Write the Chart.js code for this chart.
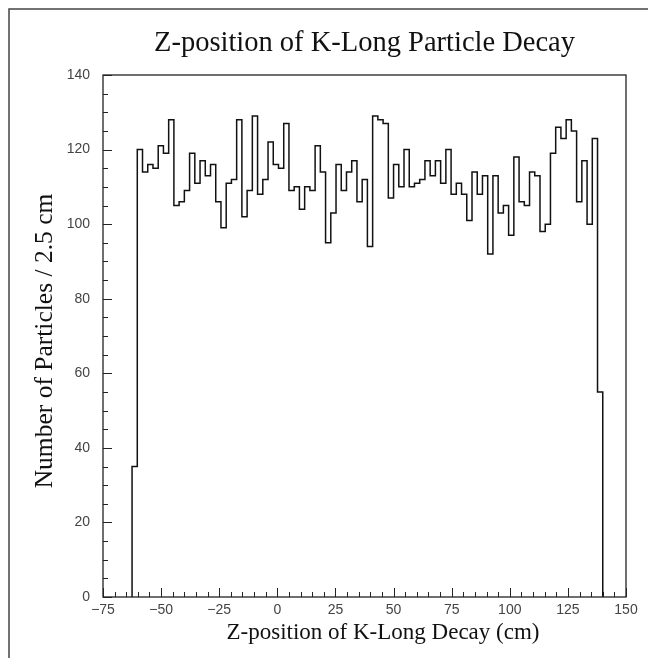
<!DOCTYPE html>
<html>
<head>
<meta charset="utf-8">
<script src="https://cdn.jsdelivr.net/npm/chart.js@4"></script>
<style>
  html, body { margin: 0; padding: 0; background: #fff; }
  #wrap { width: 648px; height: 658px; }
</style>
</head>
<body>
<div id="wrap"><canvas id="chart" width="648" height="658"></canvas></div>
<script>
// histogram binning
const binLow = -62.5;
const binWidth = 2.25;
// counts per bin, left to right
const counts = [
  35,
  120, 114, 116, 115, 121, 119, 128, 105, 106, 109,
  119, 111, 117, 113, 116, 106, 99, 111, 112, 128,
  102, 109, 129, 108, 112, 122, 116, 115, 127, 109,
  110, 104, 110, 109, 121, 114, 95, 103, 116, 109,
  114, 117, 106, 112, 94, 129, 128, 127, 107, 116,
  110, 120, 110, 111, 112, 117, 113, 117, 111, 120,
  108, 111, 108, 101, 114, 108, 113, 92, 113, 103,
  105, 97, 118, 106, 105, 114, 113, 98, 100, 119,
  126, 123, 128, 125, 106, 117, 100, 123,
  55
];
const xMin = -75, xMax = 150, xMajor = 25, xMinor = 5;
const yMin = 0, yMax = 140, yMajor = 20, yMinor = 5;

const chartTitle = 'Z-position of K-Long Particle Decay';
const xTitle = 'Z-position of K-Long Decay (cm)';
const yTitle = 'Number of Particles / 2.5 cm';

// outline of the histogram: one point per bin left edge, plus closing edge
const points = [{x: binLow, y: 0}];
counts.forEach(function(c, i) {
  points.push({x: binLow + i * binWidth, y: c});
});
points.push({x: binLow + counts.length * binWidth, y: 0});

function fmt(v) {
  return v < 0 ? '\u2212' + Math.abs(v) : String(v);
}

// frame, inward ticks and axis titles (ROOT look)
const framePlugin = {
  id: 'frame',
  afterDraw(chart) {
    const ctx = chart.ctx;
    const a = chart.chartArea;
    const xs = chart.scales.x, ys = chart.scales.y;
    ctx.save();
    // outer page border, only top and left are visible
    ctx.strokeStyle = '#444';
    ctx.lineWidth = 1.5;
    ctx.beginPath();
    ctx.moveTo(9, 658);
    ctx.lineTo(9, 9);
    ctx.lineTo(648, 9);
    ctx.stroke();
    // plot frame
    ctx.strokeStyle = '#222';
    ctx.lineWidth = 1.3;
    ctx.strokeRect(a.left, a.top, a.right - a.left, a.bottom - a.top);
    ctx.lineWidth = 1;
    ctx.beginPath();
    xs.ticks.forEach(function(t) {
      const px = Math.round(xs.getPixelForValue(t.value)) + 0.5;
      const len = (t.value % xMajor === 0) ? 9 : 5;
      ctx.moveTo(px, a.bottom);
      ctx.lineTo(px, a.bottom - len);
    });
    ys.ticks.forEach(function(t) {
      const py = Math.round(ys.getPixelForValue(t.value)) + 0.5;
      const len = (t.value % yMajor === 0) ? 9 : 5;
      ctx.moveTo(a.left, py);
      ctx.lineTo(a.left + len, py);
    });
    ctx.stroke();
    // axis titles
    ctx.fillStyle = '#111';
    ctx.textAlign = 'center';
    ctx.textBaseline = 'middle';
    ctx.font = '23px "Liberation Serif"';
    ctx.fillText(xTitle, 383, 633);
    ctx.translate(45, 341);
    ctx.rotate(-Math.PI / 2);
    ctx.font = '25.5px "Liberation Serif"';
    ctx.fillText(yTitle, 0, 0);
    ctx.restore();
  }
};

const ctx = document.getElementById('chart').getContext('2d');
new Chart(ctx, {
  type: 'line',
  data: {
    datasets: [{
      data: points,
      stepped: 'before',
      borderColor: '#111',
      borderWidth: 1.5,
      pointRadius: 0,
      fill: false
    }]
  },
  plugins: [framePlugin],
  options: {
    responsive: false,
    animation: false,
    layout: { padding: { left: 0, right: 22, top: 0, bottom: 0 } },
    plugins: {
      legend: { display: false },
      tooltip: { enabled: false },
      title: {
        display: true,
        text: chartTitle,
        fullSize: false,
        color: '#111',
        font: { family: 'Liberation Serif', size: 28.5, weight: 'normal', lineHeight: 1 },
        padding: { top: 29, bottom: 17.5 }
      }
    },
    scales: {
      x: {
        type: 'linear',
        min: xMin,
        max: xMax,
        grid: { display: false, drawTicks: false },
        border: { display: false },
        afterFit(scale) { scale.height = 61; },
        afterBuildTicks(scale) {
          const t = [];
          for (let v = xMin; v <= xMax; v += xMinor) t.push({value: v});
          scale.ticks = t;
        },
        ticks: {
          autoSkip: false,
          maxRotation: 0,
          padding: 5,
          color: '#444',
          font: { family: 'Liberation Sans', size: 14 },
          callback: function(v) { return v % xMajor === 0 ? fmt(v) : ''; }
        }
      },
      y: {
        min: yMin,
        max: yMax,
        grid: { display: false, drawTicks: false },
        border: { display: false },
        afterFit(scale) { scale.width = 103; },
        afterBuildTicks(scale) {
          const t = [];
          for (let v = yMin; v <= yMax; v += yMinor) t.push({value: v});
          scale.ticks = t;
        },
        ticks: {
          autoSkip: false,
          padding: 13,
          color: '#444',
          font: { family: 'Liberation Sans', size: 14 },
          callback: function(v) { return v % yMajor === 0 ? fmt(v) : ''; }
        }
      }
    }
  }
});
</script>
</body>
</html>
